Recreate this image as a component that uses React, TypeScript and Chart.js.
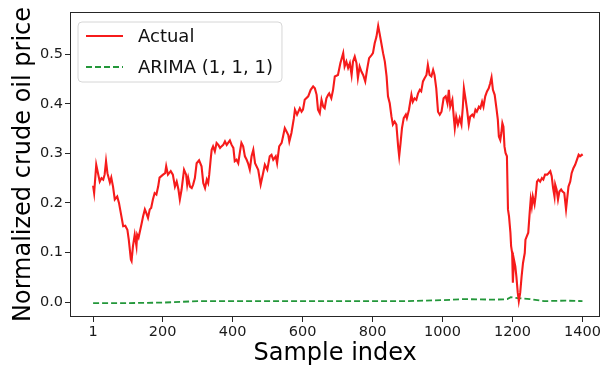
import { useEffect, useRef } from 'react';
import { Chart, registerables } from 'chart.js';

Chart.register(...registerables);

const FONT = '"DejaVu Sans", "Liberation Sans", sans-serif';

// Sample indices at which the "Actual" curve was read
const sampleIndex = [
  1, 4, 10, 15, 20, 25, 30, 34, 38, 42, 49, 53, 58, 63, 70, 75, 82, 87, 93, 99,
  103, 109, 111, 115, 120, 125, 127, 131, 134, 139, 144, 149, 153, 158, 163, 167, 172, 177, 182, 187,
  191, 196, 201, 207, 210, 215, 223, 229, 235, 240, 245, 249, 254, 261, 267, 270, 273, 278, 283, 287,
  292, 297, 304, 311, 316, 321, 326, 330, 333, 337, 340, 344, 349, 354, 359, 364, 368, 373, 378, 383,
  387, 392, 397, 402, 406, 411, 416, 421, 425, 430, 435, 440, 444, 449, 454, 459, 464, 473, 480, 487,
  492, 499, 506, 511, 516, 523, 527, 533, 540, 544, 549, 554, 559, 562, 568, 575, 578, 584, 592, 597,
  601, 606, 616, 623, 630, 635, 640, 644, 649, 654, 659, 663, 668, 673, 676, 682, 687, 692, 701, 708,
  716, 720, 725, 730, 735, 740, 744, 749, 754, 758, 763, 768, 773, 779, 784, 790, 797, 801, 806, 811,
  816, 820, 825, 830, 835, 840, 844, 849, 854, 858, 863, 868, 873, 876, 880, 884, 889, 895, 898, 904,
  911, 915, 920, 925, 930, 935, 939, 944, 949, 954, 958, 963, 968, 973, 977, 982, 987, 992, 997, 1003,
  1009, 1014, 1018, 1022, 1028, 1032, 1035, 1039, 1044, 1049, 1054, 1058, 1061, 1066, 1070, 1075, 1079, 1085, 1089, 1094,
  1098, 1104, 1108, 1113, 1117, 1122, 1127, 1132, 1136, 1140, 1144, 1149, 1154, 1158, 1161, 1165, 1168, 1171, 1174, 1177,
  1180, 1184, 1187, 1190, 1194, 1196, 1199, 1201, 1204, 1208, 1211, 1215, 1218, 1222, 1226, 1230, 1235, 1237, 1241, 1245,
  1249, 1252, 1255, 1258, 1263, 1266, 1270, 1274, 1279, 1284, 1288, 1293, 1299, 1303, 1308, 1312, 1316, 1320, 1322, 1326,
  1330, 1334, 1339, 1343, 1348, 1353, 1356, 1360, 1365, 1369, 1374, 1379, 1384, 1389, 1393, 1398, 1400,
];

// Normalized actual crude oil price
const actualPrice = [
  0.235, 0.22, 0.277, 0.26, 0.243, 0.25, 0.247, 0.257, 0.284, 0.26, 0.241, 0.251, 0.233, 0.207, 0.213, 0.2, 0.173, 0.153, 0.154, 0.146,
  0.126, 0.086, 0.083, 0.113, 0.136, 0.113, 0.136, 0.13, 0.14, 0.156, 0.173, 0.187, 0.18, 0.17, 0.187, 0.19, 0.207, 0.22, 0.217, 0.233,
  0.251, 0.254, 0.257, 0.26, 0.274, 0.257, 0.264, 0.257, 0.233, 0.243, 0.227, 0.207, 0.227, 0.267, 0.257, 0.237, 0.25, 0.233, 0.23, 0.237,
  0.25, 0.28, 0.286, 0.274, 0.24, 0.23, 0.247, 0.24, 0.257, 0.287, 0.307, 0.314, 0.304, 0.321, 0.317, 0.311, 0.314, 0.317, 0.324, 0.317,
  0.321, 0.326, 0.317, 0.311, 0.284, 0.287, 0.28, 0.304, 0.321, 0.314, 0.294, 0.287, 0.28, 0.267, 0.294, 0.307, 0.28, 0.267, 0.237, 0.26,
  0.277, 0.267, 0.294, 0.297, 0.287, 0.294, 0.28, 0.314, 0.321, 0.334, 0.351, 0.344, 0.337, 0.324, 0.341, 0.371, 0.388, 0.378, 0.391, 0.384,
  0.388, 0.408, 0.415, 0.428, 0.435, 0.431, 0.418, 0.388, 0.381, 0.408, 0.394, 0.391, 0.411, 0.418, 0.421, 0.411, 0.428, 0.455, 0.458, 0.482,
  0.502, 0.475, 0.485, 0.472, 0.482, 0.458, 0.485, 0.495, 0.482, 0.452, 0.475, 0.465, 0.458, 0.445, 0.468, 0.492, 0.498, 0.502, 0.522, 0.535,
  0.557, 0.542, 0.522, 0.502, 0.485, 0.455, 0.415, 0.401, 0.374, 0.358, 0.364, 0.358, 0.314, 0.294, 0.321, 0.351, 0.371, 0.378, 0.371, 0.388,
  0.418, 0.404, 0.411, 0.408, 0.421, 0.428, 0.425, 0.445, 0.452, 0.458, 0.478, 0.458, 0.455, 0.468, 0.458, 0.431, 0.384, 0.378, 0.384, 0.411,
  0.415, 0.401, 0.428, 0.394, 0.408, 0.374, 0.351, 0.374, 0.358, 0.371, 0.358, 0.394, 0.431, 0.408, 0.388, 0.358, 0.374, 0.378, 0.374, 0.388,
  0.384, 0.394, 0.391, 0.404, 0.394, 0.415, 0.425, 0.431, 0.441, 0.453, 0.428, 0.418, 0.391, 0.368, 0.334, 0.327, 0.341, 0.361, 0.354, 0.314,
  0.301, 0.294, 0.187, 0.173, 0.14, 0.113, 0.099, 0.039, 0.086, 0.072, 0.052, 0.019, 0.002, 0.019, 0.052, 0.079, 0.099, 0.126, 0.133, 0.14,
  0.18, 0.207, 0.193, 0.213, 0.197, 0.213, 0.243, 0.247, 0.243, 0.25, 0.247, 0.257, 0.257, 0.26, 0.264, 0.254, 0.23, 0.213, 0.237, 0.227,
  0.207, 0.223, 0.227, 0.223, 0.22, 0.187, 0.207, 0.233, 0.243, 0.26, 0.27, 0.277, 0.287, 0.297, 0.294, 0.297, 0.295,
];

// ARIMA (1, 1, 1) forecast
const arimaIndex = [1, 100, 200, 300, 500, 700, 900, 1000, 1060, 1150, 1185, 1195, 1215, 1250, 1290, 1350, 1400];
const arimaPrice = [-0.002, -0.002, -0.001, 0.002, 0.002, 0.002, 0.002, 0.004, 0.006, 0.005, 0.006, 0.01, 0.008, 0.006, 0.002, 0.003, 0.002];

const xTickValues = [1, 200, 400, 600, 800, 1000, 1200, 1400];
const yTickValues = [0, 0.1, 0.2, 0.3, 0.4, 0.5];

const seriesLabels = ['Actual', 'ARIMA (1, 1, 1)'];
const seriesColors = ['#f61b1b', '#23973a'];

const framePlugin = {
  id: 'frame',
  afterDraw(chart: any) {
    const { ctx, chartArea: a } = chart;
    ctx.save();
    ctx.strokeStyle = '#262626';
    ctx.lineWidth = 1;
    ctx.strokeRect(Math.round(a.left) + 0.5, Math.round(a.top) + 0.5, Math.round(a.right - a.left) - 1, Math.round(a.bottom - a.top) - 1);
    ctx.restore();
  },
};

const legendPlugin = {
  id: 'innerLegend',
  afterDraw(chart: any) {
    const { ctx, chartArea: a } = chart;
    ctx.save();
    ctx.font = `18px ${FONT}`;
    const labels = chart.data.datasets.map((d: any) => d.label);
    const textW = Math.max(...labels.map((l: string) => ctx.measureText(l).width));
    const x0 = a.left + 8;
    const y0 = a.top + 10;
    const lineLen = 37;
    const w = 8 + lineLen + 15 + textW + 9;
    const h = 60;
    const r = 4;
    ctx.beginPath();
    ctx.moveTo(x0 + r, y0);
    ctx.lineTo(x0 + w - r, y0);
    ctx.quadraticCurveTo(x0 + w, y0, x0 + w, y0 + r);
    ctx.lineTo(x0 + w, y0 + h - r);
    ctx.quadraticCurveTo(x0 + w, y0 + h, x0 + w - r, y0 + h);
    ctx.lineTo(x0 + r, y0 + h);
    ctx.quadraticCurveTo(x0, y0 + h, x0, y0 + h - r);
    ctx.lineTo(x0, y0 + r);
    ctx.quadraticCurveTo(x0, y0, x0 + r, y0);
    ctx.closePath();
    ctx.fillStyle = 'rgba(255,255,255,0.85)';
    ctx.fill();
    ctx.strokeStyle = '#d6d6d6';
    ctx.lineWidth = 1;
    ctx.stroke();
    chart.data.datasets.forEach((d: any, i: number) => {
      const yy = y0 + 14 + i * 31;
      ctx.beginPath();
      ctx.strokeStyle = d.borderColor;
      ctx.lineWidth = Math.min(d.borderWidth, 1.8);
      ctx.setLineDash(d.borderDash || []);
      ctx.moveTo(x0 + 8, yy);
      ctx.lineTo(x0 + 8 + lineLen, yy);
      ctx.stroke();
      ctx.setLineDash([]);
      ctx.fillStyle = '#111';
      ctx.textBaseline = 'middle';
      ctx.textAlign = 'left';
      ctx.fillText(d.label, x0 + 8 + lineLen + 15, yy + 1);
    });
    ctx.restore();
  },
};

export default function App() {
  const ref = useRef<HTMLCanvasElement | null>(null);

  useEffect(() => {
    if (!ref.current) return;
    const chart = new Chart(ref.current, {
      type: 'line',
      data: {
        datasets: [
          {
            label: seriesLabels[0],
            data: sampleIndex.map((x, i) => ({ x, y: actualPrice[i] })),
            borderColor: seriesColors[0],
            borderWidth: 2.1,
            pointRadius: 0,
            tension: 0,
            fill: false,
          },
          {
            label: seriesLabels[1],
            data: arimaIndex.map((x, i) => ({ x, y: arimaPrice[i] })),
            borderColor: seriesColors[1],
            borderWidth: 1.8,
            borderDash: [6, 3],
            pointRadius: 0,
            tension: 0,
            fill: false,
          },
        ],
      },
      options: {
        responsive: false,
        animation: false,
        layout: { padding: { top: 12, right: 2, left: 0, bottom: 0 } },
        scales: {
          x: {
            type: 'linear',
            min: -65,
            max: 1451,
            afterBuildTicks: (s: any) => {
              s.ticks = xTickValues.map((v) => ({ value: v }));
            },
            afterFit: (s: any) => {
              s.height = 54;
            },
            grid: { display: true, drawOnChartArea: false, drawTicks: true, tickLength: 5, color: '#262626', tickWidth: 1 },
            border: { display: false },
            ticks: {
              autoSkip: false,
              maxRotation: 0,
              padding: 2,
              color: '#1a1a1a',
              font: { family: FONT, size: 14.5 },
              callback: (v: any) => String(v),
            },
            title: {
              display: true,
              text: 'Sample index',
              color: '#000',
              font: { family: FONT, size: 24 },
              padding: { top: 0, bottom: 3 },
            },
          },
          y: {
            type: 'linear',
            min: -0.03,
            max: 0.585,
            afterBuildTicks: (s: any) => {
              s.ticks = yTickValues.map((v) => ({ value: v }));
            },
            afterFit: (s: any) => {
              s.width = 70;
            },
            grid: { display: true, drawOnChartArea: false, drawTicks: true, tickLength: 5, color: '#262626', tickWidth: 1 },
            border: { display: false },
            ticks: {
              autoSkip: false,
              padding: 2,
              color: '#1a1a1a',
              font: { family: FONT, size: 14.5 },
              callback: (v: any) => Number(v).toFixed(1),
            },
            title: {
              display: true,
              text: 'Normalized crude oil price',
              color: '#000',
              font: { family: FONT, size: 24 },
              padding: { top: 9, bottom: 0 },
            },
          },
        },
        plugins: {
          legend: { display: false },
          tooltip: { enabled: false },
        },
      },
      plugins: [framePlugin, legendPlugin],
    });
    return () => chart.destroy();
  }, []);

  return (
    <div style={{ position: 'fixed', left: 0, top: 0, width: 603, height: 371, background: '#fff' }}>
      <canvas ref={ref} width={603} height={371} style={{ display: 'block' }} />
    </div>
  );
}
